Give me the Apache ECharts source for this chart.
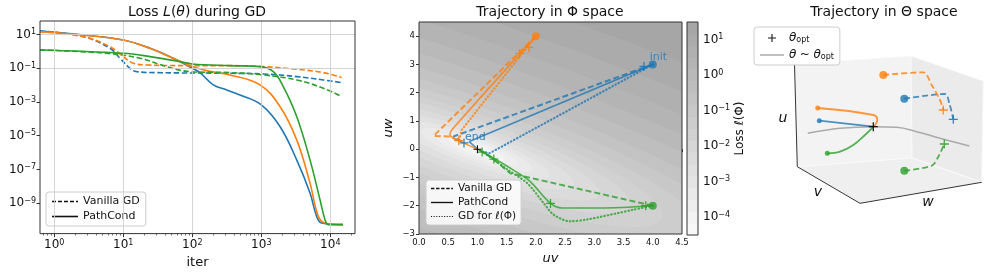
<!DOCTYPE html>
<html>
<head>
<meta charset="utf-8">
<script src="https://cdn.jsdelivr.net/npm/echarts@6/dist/echarts.min.js"></script>
<style>
html,body{margin:0;padding:0;background:#fff;}
#chart{width:997px;height:274px;}
</style>
</head>
<body>
<div id="chart"></div>
<script>
// ================= Panel 1 : Loss L(theta) during GD =================
const gdBlueIter     = [0.62, 2.64, 6.4, 8.96, 12.5, 15.6, 30.5, 352, 1070, 3258, 7925, 14620];
const gdBlueLoss     = [16.1, 7.4, 1.52, 0.39, 0.0996, 0.063, 0.055, 0.0503, 0.046, 0.032, 0.0203, 0.0141];
const gdOrangeIter   = [0.62, 2.64, 6.4, 10, 14, 21.8, 92.7, 352, 1070, 3258, 7925, 14620];
const gdOrangeLoss   = [14.7, 7.4, 1.9, 0.49, 0.197, 0.157, 0.143, 0.143, 0.125, 0.0869, 0.055, 0.0279];
const gdGreenIter    = [0.62, 5.74, 17.5, 42.5, 92.7, 352, 1070, 3258, 7925, 14620];
const gdGreenLoss    = [1.21, 0.77, 0.39, 0.125, 0.063, 0.055, 0.0401, 0.0203, 0.0065, 0.0021];
const pcBlueIter     = [0.62, 2.64, 10, 24.4, 53, 100, 129, 202, 315, 491, 1000, 1866, 3258, 5082, 6343, 7500, 15280];
const pcBlueLoss     = [16.1, 9.3, 4.7, 1.52, 0.39, 0.0996, 0.055, 0.0103, 0.0052, 0.0026, 6.7e-4, 3.5e-5, 3.7e-7, 4e-9, 1.66e-10, 6.7e-11, 5.4e-11];
const pcOrangeIter   = [0.62, 2.64, 10, 24.4, 53, 100, 161, 352, 957, 1866, 3258, 5082, 6700, 8380, 15280];
const pcOrangeLoss   = [14.7, 9.3, 4.7, 1.52, 0.39, 0.125, 0.0724, 0.0401, 0.0103, 5.4e-4, 5.7e-6, 1.56e-8, 1.66e-10, 6.7e-11, 5.4e-11];
const pcGreenIter    = [0.62, 10, 24.4, 66, 100, 352, 957, 1494, 2084, 3258, 5082, 7096, 8380, 9360, 15280];
const pcGreenLoss    = [1.21, 0.77, 0.49, 0.247, 0.18, 0.143, 0.125, 0.063, 0.0082, 1.37e-4, 3.7e-7, 1.6e-9, 1.06e-10, 5.4e-11, 5.4e-11];
const lossXTicks = [1, 10, 100, 1000, 10000];
const lossYTicks = [10, 0.1, 1e-3, 1e-5, 1e-7, 1e-9];

// ================= Panel 2 : Trajectory in Phi space =================
const phiGdBlue     = [[4, 3], [0.59, 0.45], [0.77, 0.22]];
const phiPcBlue     = [[4, 3], [0.86, 0.27], [1, 0]];
const phiDotBlue    = [[4, 3], [1.2, -0.15], [1.08, -0.08]];
const phiGdOrange   = [[2, 4], [0.25, 0.47], [0.53, 0.45], [0.68, 0.3]];
const phiPcOrange   = [[2, 4], [0.56, 0.68], [0.53, 0.5], [0.65, 0.33], [1, 0]];
const phiDotOrange  = [[2, 4], [0.73, 0.68], [0.68, 0.3]];
const phiGdGreen    = [[4, -2], [1.56, -0.85], [1.22, -0.26], [1.08, -0.1]];
const phiPcGreen    = [[4, -2], [3.1, -2.08], [2.45, -2.08], [2.24, -1.9], [1.9, -1.14], [1.61, -0.73], [1.33, -0.38], [1, 0]];
const phiDotGreen   = [[4, -2], [3.67, -2.14], [2.87, -2.49], [2.58, -2.55], [2.3, -2.31], [2.13, -1.9], [1.85, -1.2], [1.5, -0.7], [1.2, -0.25], [1.05, -0.05]];
const phiInitBlue = [4, 3], phiInitOrange = [2, 4], phiInitGreen = [4, -2];
const phiPlusBlue   = [[3.85, 2.93], [0.77, 0.22]];
const phiPlusOrange = [[1.88, 3.6], [1.72, 3.38], [0.68, 0.3]];
const phiPlusGreen  = [[3.88, -2.0], [2.25, -1.92], [1.28, -0.35], [1.08, -0.1]];
const phiOpt = [1, 0];
const phiXRange = [0, 4.5], phiYRange = [-3, 4.5];
// loss-contour ellipses around phiOpt (semi-axes), one per colorbar level
const contourMajor = [0.315, 0.595, 0.875, 1.19, 1.575, 2.1, 2.66, 3.33, 4.03, 4.9, 5.95, 7.18, 8.75, 10.5, 12.6, 15.05, 18.2];
const contourMinor = [0.09, 0.17, 0.25, 0.34, 0.45, 0.6, 0.76, 0.95, 1.15, 1.4, 1.7, 2.05, 2.5, 3.0, 3.6, 4.3, 5.2];
const contourShift = 0.12;   // outer contours drift toward the lower-left
const contourAngleDeg = -38;
const colorbarTicks = [10, 1, 0.1, 1e-2, 1e-3, 1e-4];

// ================= Panel 3 : Trajectory in Theta space (projected) =================
const thetaGdBlue    = [[134.3, 121.3], [175, 126], [179.3, 116.7], [183.3, 100.7]];
const thetaGdOrange  = [[113.3, 145], [153.3, 147.7], [161.7, 135], [170, 120], [173.3, 110]];
const thetaGdGreen   = [[134.3, 49.3], [161.7, 54.3], [168.3, 63.3], [174.3, 76]];
const thetaPcBlue    = [[49.3, 99.3], [103.3, 93.3]];
const thetaPcOrange  = [[47.7, 112], [103.3, 105], [107.3, 100], [105, 94.7], [102.7, 92.7]];
const thetaPcGreen   = [[57.3, 66.7], [70, 68.3], [83.3, 75], [95, 85], [102.7, 92.7]];
const thetaOptCurve  = [[37.7, 86.7], [70, 91.7], [103.3, 93.3], [126.7, 92.7], [146.7, 88.3], [170, 81.7], [199.3, 74]];
const thetaOpt       = [103.3, 93.3];
// box of the 3D axes, projected
const boxPanes = [
  [[24.5, 156], [141, 164], [142, 62], [27.3, 53.3]],
  [[141, 164], [213.3, 139], [211.7, 37.7], [142, 62]],
  [[27.3, 53.3], [142, 62], [211.7, 37.7], [90, 16.7]]
];
const boxAxes = [[24.5, 156], [27.3, 53.3], [90, 16.7], [211.7, 37.7]];

// ================= helpers / styles =================
const zip = (a, b) => a.map((v, i) => [v, b[i]]);
const C_BLUE = '#1f77b4', C_ORANGE = '#ff7f0e', C_GREEN = '#2ca02c';
const FONT = 'DejaVu Sans';
const DASH = [5.5, 2.6];
const PDASH = [6, 3];
const DOT = [0.5, 3];
const PLUS = 'path://M4.3,0H5.7V4.3H10V5.7H5.7V10H4.3V5.7H0V4.3H4.3Z';
const ICON_SOLID = 'path://M0,0H26V1.6H0Z';
const ICON_DASH = 'path://M0,0H4V1.6H0Z M6,0H10V1.6H6Z M12,0H16V1.6H12Z M18,0H22V1.6H18Z M24,0H26V1.6H24Z';
const ICON_DOT = 'path://M0,0H1.2V1.2H0Z M3,0H4.2V1.2H3Z M6,0H7.2V1.2H6Z M9,0H10.2V1.2H9Z M12,0H13.2V1.2H12Z M15,0H16.2V1.2H15Z M18,0H19.2V1.2H18Z M21,0H22.2V1.2H21Z M24,0H25.2V1.2H24Z';

function pow10Label(v) {
  const e = Math.round(Math.log10(v));
  return '{b|10}{s|' + (e < 0 ? '\u2212' : '') + Math.abs(e) + '}';
}
function supRich(fs) {
  return {
    b: { fontSize: fs, fontFamily: FONT, color: '#111' },
    s: { fontSize: Math.round(fs * 0.7), fontFamily: FONT, color: '#111', verticalAlign: 'top', padding: [0, 0, Math.round(fs * 0.45), 0] }
  };
}
function bandColor(k) {
  const g = Math.round(248 - (248 - 166) * k / 17);
  const h = g.toString(16).padStart(2, '0');
  return '#' + h + h + h;
}
const minorTicks = [];
for (let e = -1; e <= 4; e++) for (let m = 2; m <= 9; m++) minorTicks.push(m * Math.pow(10, e));

function lossLine(iters, losses, color, dashed) {
  return {
    type: 'line', xAxisIndex: 0, yAxisIndex: 0, data: zip(iters, losses), symbol: 'none', silent: true,
    smooth: 0.4, z: 3,
    lineStyle: { color: color, width: 1.6, type: dashed ? DASH : 'solid' }
  };
}
function phiLine(data, color, type, width, smooth) {
  return {
    type: 'line', xAxisIndex: 2, yAxisIndex: 1, data: data, symbol: 'none', silent: true, z: 3,
    smooth: smooth || false,
    lineStyle: { color: color, width: width, type: type, opacity: 0.8, cap: type === DOT ? 'round' : 'butt' }
  };
}
function plusSeries(xi, yi, data, color, size, z) {
  return { type: 'scatter', xAxisIndex: xi, yAxisIndex: yi, data: data, symbol: PLUS, symbolSize: size, silent: true, z: z || 6,
    itemStyle: { color: color, opacity: 0.9 } };
}
function thetaLine(data, color, dashed, smooth) {
  return { type: 'line', xAxisIndex: 4, yAxisIndex: 3, data: data, symbol: 'none', silent: true, z: 4, smooth: smooth,
    lineStyle: { color: color, width: 1.8, type: dashed ? PDASH : 'solid', opacity: 0.8 } };
}

const axisTxt = { color: '#111', fontFamily: FONT };
const legendBox = { orient: 'vertical', selectedMode: false, backgroundColor: 'rgba(255,255,255,0.85)', borderColor: '#cccccc', borderWidth: 1, borderRadius: 3 };

const option = {
  animation: false,
  textStyle: { fontFamily: FONT },
  grid: [
    { left: 40, top: 21, width: 315, height: 213, show: true, z: 10, backgroundColor: 'transparent', borderColor: '#333', borderWidth: 1 },
    { left: 419, top: 22, width: 263, height: 212, show: true, z: 10, backgroundColor: 'transparent', borderColor: '#333', borderWidth: 1 },
    { left: 687, top: 22, width: 11, height: 213, show: true, z: 10, backgroundColor: 'transparent', borderColor: '#333', borderWidth: 1 },
    { left: 770, top: 20, width: 220, height: 200, show: false }
  ],
  xAxis: [
    { gridIndex: 0, type: 'log', min: 0.621, max: 22800, position: 'bottom',
      axisLine: { show: false }, splitLine: { show: false },
      axisTick: { customValues: lossXTicks, length: 3.5, lineStyle: { color: '#333' } },
      axisLabel: { customValues: lossXTicks, margin: 5, formatter: pow10Label, rich: supRich(12) },
      name: 'iter', nameLocation: 'middle', nameGap: 19, nameTextStyle: { fontSize: 13, color: '#111', fontFamily: FONT } },
    { gridIndex: 0, type: 'log', min: 0.621, max: 22800, position: 'bottom',
      axisLine: { show: false }, splitLine: { show: false }, axisLabel: { show: false },
      axisTick: { customValues: minorTicks, length: 2, lineStyle: { color: '#444', width: 0.7 } } },
    { gridIndex: 1, type: 'value', min: phiXRange[0], max: phiXRange[1], interval: 0.5,
      axisLine: { show: false }, splitLine: { show: false },
      axisTick: { length: 3, lineStyle: { color: '#333' } },
      axisLabel: Object.assign({ fontSize: 8.5, margin: 4, formatter: v => v.toFixed(1) }, axisTxt),
      name: 'uv', nameLocation: 'middle', nameGap: 13, nameTextStyle: { fontSize: 13, fontStyle: 'italic', color: '#111', fontFamily: FONT } },
    { gridIndex: 2, type: 'value', min: 0, max: 1, show: false },
    { gridIndex: 3, type: 'value', min: 0, max: 220, show: false }
  ],
  yAxis: [
    { gridIndex: 0, type: 'log', min: 1.585e-11, max: 63.1,
      axisLine: { show: false }, splitLine: { show: false },
      axisTick: { customValues: lossYTicks, length: 3.5, lineStyle: { color: '#333' } },
      axisLabel: { customValues: lossYTicks, margin: 4, formatter: pow10Label, rich: supRich(12) } },
    { gridIndex: 1, type: 'value', min: phiYRange[0], max: phiYRange[1], interval: 1, showMaxLabel: false,
      axisLine: { show: false }, splitLine: { show: false },
      axisTick: { length: 3, lineStyle: { color: '#333' } },
      axisLabel: Object.assign({ fontSize: 8.5, margin: 4, showMaxLabel: false, formatter: v => (v < 0 ? '\u2212' + Math.abs(v) : '' + v) }, axisTxt),
      name: 'uw', nameLocation: 'middle', nameGap: 24, nameRotate: 90, nameTextStyle: { fontSize: 13, fontStyle: 'italic', color: '#111', fontFamily: FONT } },
    { gridIndex: 2, type: 'log', position: 'right', min: Math.pow(10, -4.5), max: Math.pow(10, 1.5),
      axisLine: { show: false }, splitLine: { show: false },
      axisTick: { customValues: colorbarTicks, length: 3.5, lineStyle: { color: '#333' } },
      axisLabel: { customValues: colorbarTicks, margin: 5, formatter: pow10Label, rich: supRich(12) },
      name: 'Loss \u2113(\u03A6)', nameLocation: 'middle', nameGap: 34, nameRotate: 90, nameTextStyle: { fontSize: 12, color: '#111', fontFamily: FONT } },
    { gridIndex: 3, type: 'value', min: 0, max: 200, show: false }
  ],
  legend: [
    Object.assign({ data: [{ name: 'Vanilla GD', icon: ICON_DASH }, { name: 'PathCond', icon: ICON_SOLID }], left: 46, top: 192,
      itemWidth: 26, itemHeight: 8, itemGap: 4, padding: [4, 6, 4, 6],
      textStyle: { fontSize: 11, color: '#111', fontFamily: FONT } }, legendBox),
    Object.assign({ data: [{ name: 'Vanilla GD', icon: ICON_DASH }, { name: 'PathCond', icon: ICON_SOLID }, { name: 'GD for \u2113(\u03A6)', icon: ICON_DOT }],
      left: 426, top: 180, itemWidth: 22, itemHeight: 8, itemGap: 3, padding: [3, 5, 3, 5],
      textStyle: { fontSize: 10.5, color: '#111', fontFamily: FONT } }, legendBox),
    Object.assign({ data: [{ name: 'thetaOpt', icon: PLUS }, { name: 'thetaCurve', icon: ICON_SOLID }], left: 754, top: 27,
      itemWidth: 24, itemHeight: 8, itemGap: 5, padding: [5, 6, 4, 6],
      formatter: n => n === 'thetaOpt' ? '{i|\u03B8}{sub|opt}' : '{i|\u03B8} {r|~} {i|\u03B8}{sub|opt}',
      textStyle: { fontSize: 11, color: '#111', fontFamily: FONT,
        rich: { i: { fontSize: 12, fontStyle: 'italic', fontFamily: FONT, color: '#111' },
                r: { fontSize: 12, fontFamily: FONT, color: '#111' },
                sub: { fontSize: 8, fontFamily: FONT, color: '#111', verticalAlign: 'bottom', padding: [4, 0, 0, 0] } } } }, legendBox)
  ],
  series: [
    // ---- panel 1 gridlines ----
    { type: 'line', xAxisIndex: 0, yAxisIndex: 0, data: [], silent: true, z: 1,
      markLine: { silent: true, symbol: ['none', 'none'], label: { show: false }, animation: false,
        lineStyle: { color: '#cfcfcf', width: 0.9, type: 'solid' }, emphasis: { disabled: true },
        data: lossXTicks.map(v => ({ xAxis: v })).concat(lossYTicks.map(v => ({ yAxis: v }))) } },
    // legend dummies
    { type: 'line', name: 'Vanilla GD', xAxisIndex: 0, yAxisIndex: 0, data: [], symbol: 'none', lineStyle: { color: '#111' }, itemStyle: { color: '#111' } },
    { type: 'line', name: 'PathCond', xAxisIndex: 0, yAxisIndex: 0, data: [], symbol: 'none', lineStyle: { color: '#111' }, itemStyle: { color: '#111' } },
    { type: 'line', name: 'GD for \u2113(\u03A6)', xAxisIndex: 0, yAxisIndex: 0, data: [], symbol: 'none', lineStyle: { color: '#111' }, itemStyle: { color: '#111' } },
    // panel 1 curves
    lossLine(gdBlueIter, gdBlueLoss, C_BLUE, true),
    lossLine(pcBlueIter, pcBlueLoss, C_BLUE, false),
    lossLine(gdOrangeIter, gdOrangeLoss, C_ORANGE, true),
    lossLine(pcOrangeIter, pcOrangeLoss, C_ORANGE, false),
    lossLine(gdGreenIter, gdGreenLoss, C_GREEN, true),
    lossLine(pcGreenIter, pcGreenLoss, C_GREEN, false),

    // ---- panel 2 trajectories ----
    phiLine(phiGdBlue, C_BLUE, PDASH, 2),
    phiLine(phiPcBlue, C_BLUE, 'solid', 1.6),
    phiLine(phiDotBlue, C_BLUE, DOT, 2.2),
    phiLine(phiGdOrange, C_ORANGE, PDASH, 2),
    phiLine(phiPcOrange, C_ORANGE, 'solid', 1.6, 0.25),
    phiLine(phiDotOrange, C_ORANGE, DOT, 2.2),
    phiLine(phiGdGreen, C_GREEN, PDASH, 2),
    phiLine(phiPcGreen, C_GREEN, 'solid', 1.6, 0.3),
    phiLine(phiDotGreen, C_GREEN, DOT, 2.2, 0.3),
    plusSeries(2, 1, phiPlusBlue.map((p, i) => i === phiPlusBlue.length - 1 ? { value: p, label: { show: true, formatter: 'end', position: 'inside', align: 'left', verticalAlign: 'middle', offset: [1, -6], color: C_BLUE, fontSize: 11, fontFamily: FONT } } : p), C_BLUE, 9),
    plusSeries(2, 1, phiPlusOrange, C_ORANGE, 9),
    plusSeries(2, 1, phiPlusGreen, C_GREEN, 9),
    plusSeries(2, 1, [phiOpt], '#000', 8, 7),
    { type: 'scatter', xAxisIndex: 2, yAxisIndex: 1, symbol: 'circle', symbolSize: 8, z: 6, silent: true,
      data: [
        { value: phiInitBlue, itemStyle: { color: C_BLUE }, label: { show: true, formatter: 'init', position: 'inside', align: 'left', verticalAlign: 'middle', offset: [-3, -7], color: C_BLUE, fontSize: 11, fontFamily: FONT } },
        { value: phiInitOrange, itemStyle: { color: C_ORANGE } },
        { value: phiInitGreen, itemStyle: { color: C_GREEN } }
      ] },

    // ---- panel 3 ----
    { type: 'line', xAxisIndex: 4, yAxisIndex: 3, data: boxAxes, symbol: 'none', silent: true, z: 2, lineStyle: { color: '#333', width: 1 } },
    { type: 'line', name: 'thetaCurve', xAxisIndex: 4, yAxisIndex: 3, data: thetaOptCurve, symbol: 'none', silent: true, z: 3, smooth: 0.4,
      lineStyle: { color: '#aaaaaa', width: 1.6 }, itemStyle: { color: '#aaaaaa' } },
    thetaLine(thetaGdBlue, C_BLUE, true, 0.3),
    thetaLine(thetaGdOrange, C_ORANGE, true, 0.3),
    thetaLine(thetaGdGreen, C_GREEN, true, 0.3),
    thetaLine(thetaPcBlue, C_BLUE, false, 0),
    thetaLine(thetaPcOrange, C_ORANGE, false, 0.4),
    thetaLine(thetaPcGreen, C_GREEN, false, 0.4),
    { type: 'scatter', xAxisIndex: 4, yAxisIndex: 3, symbol: 'circle', silent: true, z: 5,
      data: [
        { value: thetaGdBlue[0], symbolSize: 8, itemStyle: { color: C_BLUE } },
        { value: thetaGdOrange[0], symbolSize: 8, itemStyle: { color: C_ORANGE } },
        { value: thetaGdGreen[0], symbolSize: 8, itemStyle: { color: C_GREEN } },
        { value: thetaPcBlue[0], symbolSize: 5, itemStyle: { color: C_BLUE } },
        { value: thetaPcOrange[0], symbolSize: 5, itemStyle: { color: C_ORANGE } },
        { value: thetaPcGreen[0], symbolSize: 5, itemStyle: { color: C_GREEN } }
      ] },
    plusSeries(4, 3, [thetaGdBlue[thetaGdBlue.length - 1]], C_BLUE, 9),
    plusSeries(4, 3, [thetaGdOrange[thetaGdOrange.length - 1]], C_ORANGE, 9),
    plusSeries(4, 3, [thetaGdGreen[thetaGdGreen.length - 1]], C_GREEN, 9),
    Object.assign(plusSeries(4, 3, [thetaOpt], '#000', 9, 8), { name: 'thetaOpt' })
  ]
};

const chart = echarts.init(document.getElementById('chart'), null, { renderer: 'canvas' });
chart.setOption(option);

// ---------- graphics positioned through the chart's own coordinate systems ----------
function toPx(gridIndex, p) { return chart.convertToPixel({ gridIndex: gridIndex }, p); }
function intersect(a, b, d, v) { const t = (v - a[d]) / (b[d] - a[d]); return [a[0] + t * (b[0] - a[0]), a[1] + t * (b[1] - a[1])]; }
function clipPoly(pts, xr, yr) {
  const edges = [[0, xr[0], 1], [0, xr[1], -1], [1, yr[0], 1], [1, yr[1], -1]];
  let out = pts;
  for (const [d, v, s] of edges) {
    const inp = out; out = [];
    for (let i = 0; i < inp.length; i++) {
      const cur = inp[i], prev = inp[(i + inp.length - 1) % inp.length];
      const ci = (cur[d] - v) * s >= 0, pi = (prev[d] - v) * s >= 0;
      if (ci) { if (!pi) out.push(intersect(prev, cur, d, v)); out.push(cur); }
      else if (pi) out.push(intersect(prev, cur, d, v));
    }
    if (!out.length) break;
  }
  return out;
}
const centerText = { align: 'center', verticalAlign: 'middle', textAlign: 'center', textVerticalAlign: 'middle' };
const gfx = [];
// contour background
const E1 = [Math.cos(contourAngleDeg * Math.PI / 180), Math.sin(contourAngleDeg * Math.PI / 180)];
const E2 = [-E1[1], E1[0]];
{
  const tl = toPx(1, [phiXRange[0], phiYRange[1]]), br = toPx(1, [phiXRange[1], phiYRange[0]]);
  gfx.push({ type: 'rect', z: 1, silent: true, shape: { x: tl[0], y: tl[1], width: br[0] - tl[0], height: br[1] - tl[1] }, style: { fill: bandColor(17) } });
  for (let k = contourMajor.length - 1; k >= 0; k--) {
    const a = contourMajor[k], b = contourMinor[k];
    const cx = phiOpt[0] - contourShift * b * E2[0], cy = phiOpt[1] - contourShift * b * E2[1];
    const pts = [];
    for (let i = 0; i < 160; i++) {
      const t = 2 * Math.PI * i / 160;
      const ca = Math.cos(t) * a, sb = Math.sin(t) * b;
      pts.push([cx + ca * E1[0] + sb * E2[0], cy + ca * E1[1] + sb * E2[1]]);
    }
    const clipped = clipPoly(pts, phiXRange, phiYRange);
    if (clipped.length > 2) gfx.push({ type: 'polygon', z: 1, silent: true, shape: { points: clipped.map(p => toPx(1, p)) }, style: { fill: bandColor(k) } });
  }
}
// colorbar bands
for (let k = 0; k < 18; k++) {
  const lo = toPx(2, [0, Math.pow(10, -4.5 + k / 3)]);
  const hi = toPx(2, [1, Math.pow(10, -4.5 + (k + 1) / 3)]);
  gfx.push({ type: 'rect', z: 1, silent: true, shape: { x: lo[0], y: hi[1], width: hi[0] - lo[0], height: lo[1] - hi[1] + 0.5 }, style: { fill: bandColor(k) } });
}
// 3D box panes
const paneFills = ['#f3f3f3', '#ebebeb', '#efefef'];
boxPanes.forEach((pane, i) => gfx.push({ type: 'polygon', z: 1, silent: true, shape: { points: pane.map(p => toPx(3, p)) }, style: { fill: paneFills[i], stroke: '#f9f9f9', lineWidth: 1 } }));
// titles and axis letters
gfx.push({ type: 'text', x: 197, y: 12, z: 20, style: Object.assign({ text: '{r|Loss }{i|L}{r|(}{i|\u03B8}{r|) during GD}',
  rich: { r: { fontSize: 14, fontFamily: FONT, fill: '#111' }, i: { fontSize: 14, fontFamily: FONT, fontStyle: 'italic', fill: '#111' } } }, centerText) });
gfx.push({ type: 'text', x: 550, y: 12, z: 20, style: Object.assign({ text: 'Trajectory in \u03A6 space', fontSize: 14, fontFamily: FONT, fill: '#111' }, centerText) });
gfx.push({ type: 'text', x: 884, y: 12, z: 20, style: Object.assign({ text: 'Trajectory in \u0398 space', fontSize: 14, fontFamily: FONT, fill: '#111' }, centerText) });
[['u', 783, 118], ['v', 818, 192], ['w', 928, 202]].forEach(([t, x, y]) =>
  gfx.push({ type: 'text', x: x, y: y, z: 20, style: Object.assign({ text: t, fontSize: 14, fontStyle: 'italic', fontFamily: FONT, fill: '#111' }, centerText) }));

chart.setOption({ graphic: gfx });
</script>
</body>
</html>
